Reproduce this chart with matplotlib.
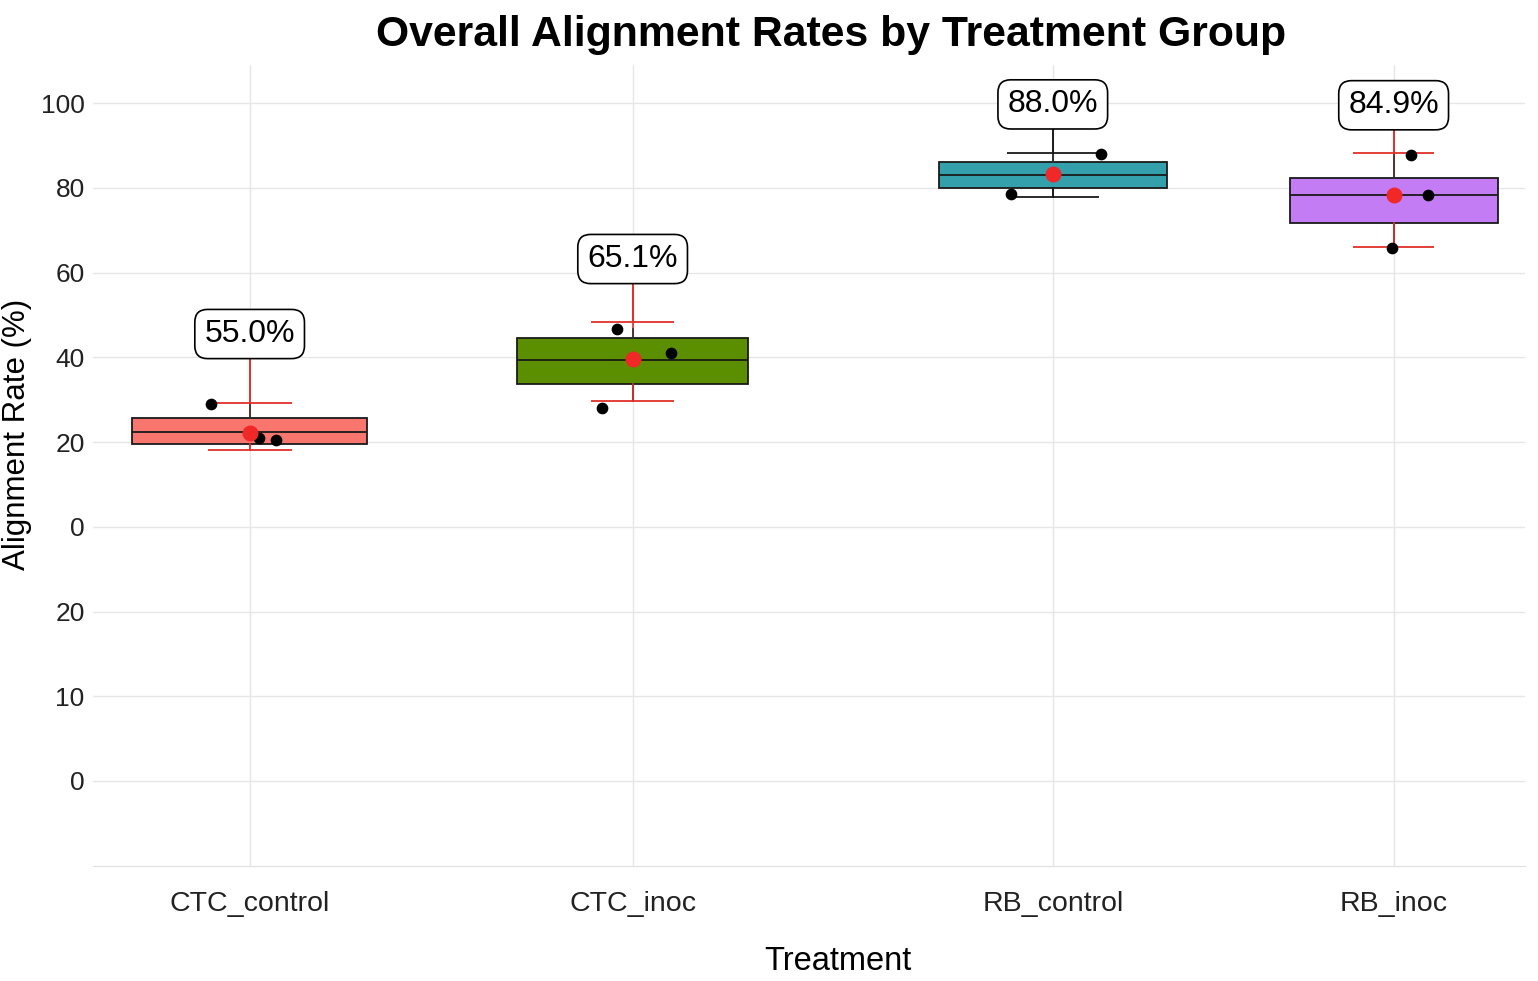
import matplotlib
matplotlib.use('Agg')
import matplotlib.pyplot as plt

plt.rcParams['font.family'] = ['Liberation Sans', 'DejaVu Sans']

# data
groups = ['CTC_control', 'CTC_inoc', 'RB_control', 'RB_inoc']
box_q1 = [19.5, 33.6, 79.9, 71.7]
box_med = [22.3, 39.4, 83.1, 78.2]
box_q3 = [25.6, 44.6, 86.2, 82.3]
means = [22.2, 39.5, 83.2, 78.2]
err_low = [18.1, 29.8, 77.9, 66.1]
err_high = [29.1, 48.3, 88.3, 88.3]
points = [[29.0, 20.9, 20.5], [46.6, 41.1, 28.0], [87.9, 78.5], [87.8, 78.2, 65.7]]
point_dx = [[-0.10, 0.025, 0.07], [-0.04, 0.10, -0.08], [0.125, -0.11], [0.045, 0.09, -0.005]]
label_text = ['55.0%', '65.1%', '88.0%', '84.9%']
label_y = [45.5, 63.2, 99.7, 99.5]
ytick_vals = [100, 80, 60, 40, 20, 0, -20, -40, -60]
ytick_labels = ['100', '80', '60', '40', '20', '0', '20', '10', '0']

# layout
xpos = [0, 1.0, 2.097, 2.987]
box_w = [0.612, 0.602, 0.596, 0.543]
cap_hw = [0.11, 0.108, 0.12, 0.105]
colors = ['#F8766D', '#5B8F00', '#33A0AC', '#C47CF5']
err_colors = ['#E0302A', '#E0302A', '#1a1a1a', '#E0302A']

fig = plt.figure(figsize=(15.38, 9.81), dpi=100)
ax = fig.add_axes([93 / 1538, 1 - 865.7 / 981, (1525 - 93) / 1538, (865.7 - 65) / 981])
ax.set_xlim(-0.409, 3.330)
ax.set_ylim(-80, 109)

stats = []
for i, g in enumerate(groups):
    lo = max(min(points[i] + [box_q1[i]]), err_low[i])
    hi = min(max(points[i] + [box_q3[i]]), err_high[i])
    stats.append(dict(med=box_med[i], q1=box_q1[i], q3=box_q3[i],
                      whislo=lo, whishi=hi, fliers=[], label=g))

bp = ax.bxp(stats, positions=xpos, widths=box_w, patch_artist=True,
            showcaps=False, showfliers=False,
            boxprops=dict(edgecolor='#1a1a1a', linewidth=1.3),
            medianprops=dict(color='#1a1a1a', linewidth=1.3),
            whiskerprops=dict(color='#333333', linewidth=1.2), zorder=3)
for patch, c in zip(bp['boxes'], colors):
    patch.set_facecolor(c)

for i in range(len(groups)):
    x = xpos[i]
    ec = err_colors[i]
    # connector line up to the label
    ax.plot([x, x], [err_low[i], label_y[i]], color=ec, lw=1.2, zorder=2)
    ax.plot([x, x], [err_low[i], box_q1[i]], color=ec, lw=1.2, zorder=4)
    ax.plot([x, x], [err_high[i], label_y[i]], color=ec, lw=1.2, zorder=4)
    ax.hlines([err_low[i], err_high[i]], x - cap_hw[i], x + cap_hw[i], color=ec, lw=1.3, zorder=4)
    ax.scatter([x + d for d in point_dx[i]], points[i], s=55, color='black', zorder=5)
    ax.scatter([x], [means[i]], s=110, color='#F02828', zorder=6)
    ax.text(x, label_y[i], label_text[i], ha='center', va='center', fontsize=23, zorder=7,
            bbox=dict(boxstyle='round,pad=0.3,rounding_size=0.4', fc='white', ec='black', lw=1.2))

ax.set_yticks(ytick_vals)
ax.set_yticklabels(ytick_labels, fontsize=19)
ax.set_xticks(xpos)
ax.set_xticklabels(groups, fontsize=20.5)
ax.tick_params(axis='both', length=0, colors='#222222')
ax.tick_params(axis='y', pad=6)
ax.tick_params(axis='x', pad=18)
ax.grid(True, color='#e6e6e6', lw=1.0, zorder=0)
ax.set_axisbelow(True)
for s in ['top', 'right', 'left']:
    ax.spines[s].set_visible(False)
ax.spines['bottom'].set_color('#e0e0e0')

fig.text(831.5 / 1538, 1 - 46 / 981, 'Overall Alignment Rates by Treatment Group',
         ha='center', va='baseline', fontsize=30.8, fontweight='bold')
fig.text(838 / 1538, 1 - 961 / 981, 'Treatment', ha='center', va='center', fontsize=23.5)
fig.text(17 / 1538, 1 - 434 / 981, 'Alignment Rate (%)', ha='center', va='center',
         rotation=90, fontsize=22.5)

fig.savefig('out.png', dpi=100)
